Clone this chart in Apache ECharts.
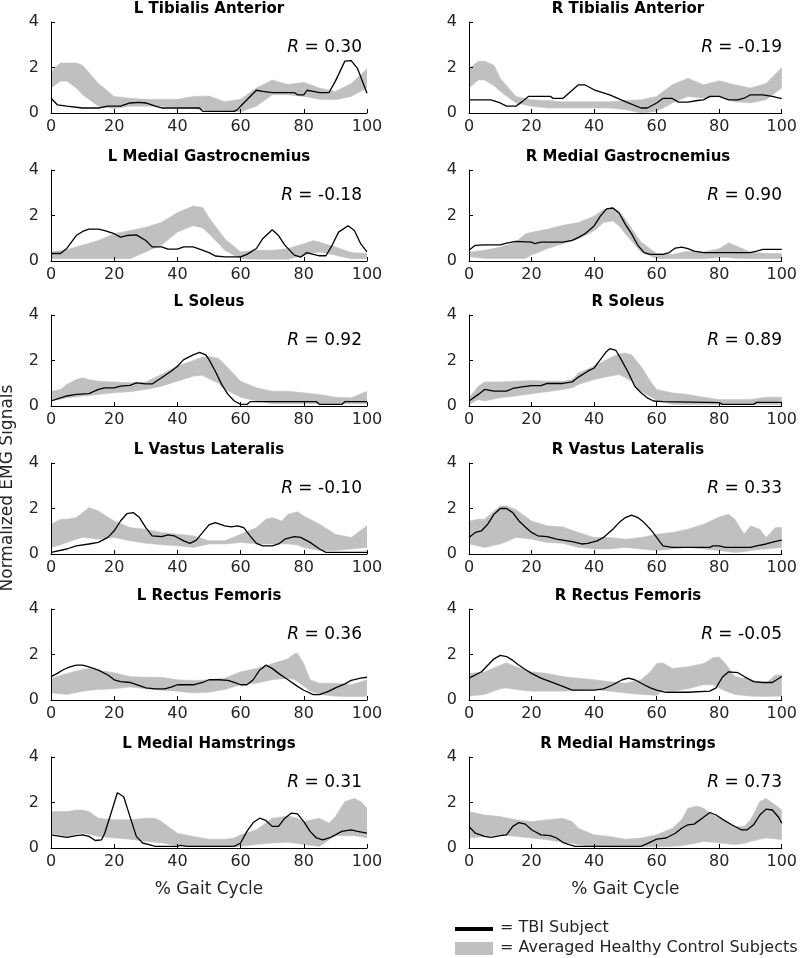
<!DOCTYPE html>
<html><head><meta charset="utf-8">
<script src="https://cdn.jsdelivr.net/npm/echarts@6/dist/echarts.min.js"></script>
<style>html,body{margin:0;padding:0;background:#fff}#c{width:800px;height:958px}</style>
</head><body><div id="c"></div>
<script>
// ---------- data ----------
const titles = ['L Tibialis Anterior','R Tibialis Anterior','L Medial Gastrocnemius','R Medial Gastrocnemius',
  'L Soleus','R Soleus','L Vastus Lateralis','R Vastus Lateralis','L Rectus Femoris','R Rectus Femoris',
  'L Medial Hamstrings','R Medial Hamstrings'];
const rValues = ['0.30','-0.19','-0.18','0.90','0.92','0.89','-0.10','0.33','0.36','-0.05','0.31','0.73'];
const xTicks = [0,20,40,60,80,100];
const yTicks = [0,2,4];

// healthy control band: [x, lower, upper]
const bandLTA = [[0,1.1,1.82],[3,1.4,2.2],[5,1.4,2.2],[8,1.1,2.2],[10,0.8,2.1],[15,0.3,1.3],[20,0.2,0.73],[25,0.3,0.65],[30,0.3,0.6],[35,0.3,0.6],[40,0.25,0.6],[45,0.2,0.73],[50,0.1,0.75],[55,0.1,0.5],[60,0.05,0.6],[65,0.3,1.1],[70,0.8,1.45],[75,0.8,1.25],[80,0.73,1.35],[85,0.6,1.1],[90,0.58,0.95],[95,0.73,1.3],[100,1.1,1.95]];
const bandRTA = [[0,1.1,1.96],[3,1.45,2.28],[5,1.45,2.28],[8,1.2,2.1],[10,0.95,1.53],[15,0.44,0.73],[20,0.3,0.58],[25,0.22,0.55],[30,0.22,0.5],[35,0.22,0.5],[40,0.22,0.5],[45,0.22,0.5],[50,0.15,0.55],[55,0.0,0.58],[60,0.07,0.73],[65,0.44,1.24],[70,0.73,1.53],[75,0.65,1.24],[80,0.73,1.42],[85,0.5,1.24],[90,0.44,1.1],[95,0.58,1.3],[100,1.1,2.0]];
const bandLMG = [[0,0.1,0.4],[5,0.1,0.5],[10,0.1,0.7],[15,0.1,0.9],[20,0.1,1.2],[25,0.1,1.34],[30,0.4,1.48],[35,0.7,1.7],[40,1.27,2.13],[45,1.55,2.42],[48,1.45,2.35],[50,1.2,1.9],[55,0.47,0.98],[60,0.1,0.4],[65,0.08,0.47],[70,0.08,0.47],[75,0.08,0.55],[80,0.25,0.76],[83,0.35,0.9],[85,0.4,0.83],[90,0.25,0.62],[95,0.1,0.37],[100,0.1,0.33]];
const bandRMG = [[0,0.19,0.4],[5,0.11,0.47],[10,0.11,0.61],[15,0.11,0.83],[18,0.11,1.19],[20,0.26,1.26],[25,0.54,1.4],[30,0.76,1.57],[35,0.97,1.69],[40,1.33,1.97],[43,1.69,2.26],[46,1.76,2.33],[48,1.54,2.19],[50,1.19,1.83],[55,0.4,0.83],[60,0.11,0.33],[65,0.1,0.29],[70,0.1,0.43],[75,0.1,0.4],[80,0.15,0.54],[83,0.15,0.8],[85,0.12,0.69],[90,0.1,0.4],[95,0.1,0.33],[100,0.1,0.33]];
const bandLSol = [[0,0.22,0.65],[3,0.3,0.73],[5,0.36,0.95],[8,0.4,1.16],[10,0.44,1.24],[12,0.46,1.16],[15,0.51,1.09],[20,0.58,1.06],[25,0.63,1.02],[30,0.73,1.06],[35,0.87,1.4],[40,1.09,1.75],[45,1.31,2.0],[48,1.35,2.15],[50,1.2,2.18],[53,1.0,2.1],[55,0.73,1.82],[60,0.39,1.09],[65,0.22,0.8],[70,0.1,0.65],[75,0.1,0.65],[80,0.1,0.58],[85,0.1,0.51],[90,0.1,0.39],[95,0.1,0.36],[100,0.1,0.65]];
const bandRSol = [[0,0.07,0.36],[3,0.29,0.87],[5,0.22,1.06],[10,0.36,1.06],[15,0.44,1.09],[20,0.54,1.12],[25,0.63,1.09],[30,0.73,1.09],[33,0.8,1.16],[35,0.95,1.45],[40,1.16,1.75],[45,1.31,2.11],[48,1.38,2.3],[50,1.24,2.33],[52,1.1,2.25],[55,0.65,1.75],[58,0.4,1.09],[60,0.25,0.73],[65,0.07,0.58],[70,0.07,0.51],[75,0.07,0.39],[80,0.07,0.29],[90,0.07,0.29],[95,0.07,0.39],[100,0.07,0.39]];
const bandLVL = [[0,0.29,1.31],[3,0.4,1.53],[5,0.51,1.53],[8,0.65,1.6],[10,0.73,1.82],[12,0.7,2.04],[15,0.65,1.89],[20,0.73,1.45],[25,0.58,1.16],[30,0.47,1.09],[35,0.41,0.95],[40,0.36,0.87],[45,0.29,0.8],[50,0.44,0.58],[55,0.44,0.58],[60,0.51,0.87],[65,0.44,1.16],[68,0.44,1.53],[70,0.44,1.6],[73,0.44,1.45],[75,0.44,1.75],[78,0.4,1.86],[80,0.29,1.67],[85,0.15,1.31],[90,0.15,0.87],[95,0.22,0.73],[100,0.29,1.24]];
const bandRVL = [[0,0.44,1.45],[3,0.35,1.53],[5,0.29,1.53],[8,0.38,1.89],[10,0.44,2.11],[12,0.55,2.11],[15,0.73,1.96],[20,0.65,1.45],[25,0.51,1.24],[30,0.47,1.19],[35,0.29,0.95],[40,0.22,0.73],[45,0.22,0.73],[50,0.29,0.65],[55,0.22,0.73],[60,0.15,0.87],[65,0.22,0.95],[70,0.29,1.09],[75,0.22,1.31],[80,0.15,1.63],[83,0.1,1.75],[85,0.07,1.53],[88,0.1,0.87],[90,0.15,1.24],[93,0.2,1.09],[95,0.22,0.73],[98,0.26,1.16],[100,0.29,1.16]];
const bandLRF = [[0,0.31,0.96],[5,0.24,1.17],[10,0.39,1.34],[12,0.42,1.39],[15,0.46,1.31],[20,0.49,1.2],[25,0.57,1.03],[30,0.49,1.0],[35,0.43,1.0],[40,0.39,0.89],[45,0.31,0.86],[50,0.34,0.89],[55,0.46,0.96],[60,0.67,1.24],[65,0.74,1.39],[70,0.89,1.6],[75,0.96,1.81],[77,0.9,2.03],[78,0.8,2.06],[80,0.6,1.6],[82,0.4,0.89],[85,0.24,0.74],[90,0.17,0.74],[95,0.14,0.67],[100,0.17,0.89]];
const bandRRF = [[0,0.17,1.17],[5,0.24,1.24],[10,0.49,1.53],[12,0.53,1.64],[15,0.46,1.46],[20,0.39,1.24],[25,0.39,1.17],[30,0.39,1.03],[35,0.43,0.96],[40,0.46,0.89],[45,0.39,0.81],[50,0.31,0.74],[55,0.24,0.89],[58,0.22,1.24],[60,0.2,1.6],[62,0.43,1.63],[65,0.39,1.39],[70,0.49,1.46],[75,0.67,1.6],[78,0.67,1.86],[80,0.53,1.89],[82,0.4,1.6],[85,0.24,1.03],[90,0.17,0.89],[95,0.15,0.74],[98,0.16,1.1],[100,0.17,1.1]];
const bandLMH = [[0,0.65,1.6],[5,0.51,1.6],[8,0.6,1.67],[10,0.65,1.67],[12,0.6,1.6],[15,0.51,1.31],[20,0.44,1.24],[25,0.39,1.24],[30,0.29,1.31],[33,0.25,1.31],[35,0.22,1.16],[40,0.1,0.65],[45,0.07,0.51],[50,0.07,0.39],[55,0.07,0.39],[58,0.07,0.44],[60,0.07,0.58],[65,0.15,0.8],[70,0.22,1.31],[75,0.25,1.41],[78,0.2,1.31],[80,0.15,1.16],[85,0.07,1.31],[88,0.36,1.09],[90,0.54,1.38],[93,0.54,2.04],[96,0.54,2.18],[98,0.5,2.04],[100,0.44,1.75]];
const bandRMH = [[0,0.44,1.6],[5,0.51,1.45],[10,0.58,1.38],[15,0.51,1.24],[20,0.44,1.16],[25,0.36,1.24],[30,0.25,1.31],[33,0.2,1.16],[35,0.15,0.87],[40,0.07,0.58],[45,0.05,0.51],[50,0.05,0.39],[55,0.05,0.44],[60,0.05,0.58],[65,0.07,0.87],[68,0.1,1.24],[70,0.15,1.75],[73,0.22,1.85],[75,0.29,1.75],[78,0.25,1.45],[80,0.22,1.31],[85,0.15,0.95],[88,0.2,0.95],[90,0.29,1.24],[93,0.38,2.04],[95,0.44,2.18],[98,0.4,1.89],[100,0.36,1.67]];

// TBI subject: [x, y]
const lineLTA = [[0,0.65],[2,0.36],[5,0.3],[10,0.22],[15,0.22],[18,0.3],[22,0.3],[25,0.44],[28,0.47],[30,0.44],[33,0.3],[35,0.22],[47,0.22],[48,0.07],[58,0.07],[59,0.15],[60,0.3],[62,0.58],[65,1.0],[67,0.95],[70,0.9],[77,0.9],[78,0.8],[80,0.8],[81,1.0],[83,0.95],[85,0.9],[88,0.9],[90,1.4],[93,2.28],[95,2.3],[97,1.96],[100,0.87]];
const lineRTA = [[0,0.58],[7,0.58],[10,0.44],[12,0.3],[15,0.3],[17,0.5],[19,0.73],[26,0.73],[27,0.64],[30,0.64],[33,1.0],[35,1.24],[37,1.24],[40,1.02],[45,0.8],[50,0.5],[55,0.22],[57,0.22],[60,0.44],[62,0.64],[65,0.64],[67,0.48],[70,0.48],[73,0.55],[75,0.58],[77,0.73],[80,0.73],[83,0.58],[86,0.58],[88,0.65],[90,0.8],[94,0.8],[97,0.73],[100,0.63]];
const lineLMG = [[0,0.33],[3,0.33],[5,0.55],[8,1.12],[10,1.3],[12,1.4],[15,1.4],[17,1.34],[20,1.2],[22,1.05],[24,1.12],[27,1.15],[30,0.9],[32,0.62],[35,0.62],[37,0.52],[40,0.52],[42,0.62],[45,0.62],[47,0.52],[50,0.37],[52,0.22],[55,0.18],[60,0.18],[62,0.29],[65,0.55],[67,0.98],[70,1.37],[72,1.12],[74,0.7],[77,0.26],[79,0.17],[81,0.37],[83,0.29],[85,0.23],[87,0.23],[89,0.7],[91,1.27],[94,1.55],[96,1.34],[98,0.76],[100,0.4]];
const lineRMG = [[0,0.47],[2,0.69],[5,0.71],[10,0.71],[12,0.79],[15,0.86],[20,0.83],[21,0.76],[23,0.83],[30,0.83],[33,0.91],[35,1.04],[37,1.19],[40,1.54],[42,1.97],[44,2.29],[46,2.33],[48,2.11],[50,1.61],[52,1.19],[54,0.69],[56,0.37],[58,0.29],[62,0.29],[64,0.37],[66,0.57],[68,0.61],[70,0.54],[72,0.43],[75,0.37],[90,0.37],[92,0.43],[94,0.51],[100,0.51]];
const lineLSol = [[0,0.22],[3,0.36],[5,0.44],[8,0.51],[12,0.54],[15,0.73],[17,0.8],[20,0.8],[22,0.87],[25,0.91],[27,1.02],[30,0.97],[32,0.97],[35,1.24],[38,1.53],[40,1.75],[42,2.04],[45,2.25],[47,2.36],[49,2.25],[50,2.04],[52,1.53],[54,0.95],[56,0.51],[58,0.22],[60,0.07],[62,0.07],[63,0.19],[84,0.19],[85,0.07],[92,0.07],[93,0.19],[100,0.19]];
const lineRSol = [[0,0.22],[3,0.51],[5,0.73],[8,0.65],[12,0.65],[14,0.77],[17,0.84],[20,0.9],[23,0.9],[25,0.99],[30,0.99],[33,1.06],[35,1.27],[38,1.53],[40,1.67],[42,2.04],[44,2.4],[45,2.52],[47,2.44],[49,1.96],[51,1.45],[53,0.87],[55,0.58],[57,0.36],[59,0.22],[62,0.19],[80,0.15],[81,0.07],[91,0.07],[92,0.16],[100,0.16]];
const lineLVL = [[0,0.07],[5,0.22],[8,0.36],[12,0.44],[15,0.51],[18,0.73],[20,1.02],[22,1.45],[24,1.77],[26,1.82],[28,1.6],[30,1.16],[32,0.8],[35,0.76],[37,0.84],[39,0.8],[42,0.58],[44,0.47],[46,0.61],[48,0.95],[50,1.28],[52,1.38],[55,1.24],[57,1.19],[59,1.24],[61,1.16],[63,0.8],[65,0.47],[67,0.36],[70,0.36],[72,0.44],[74,0.65],[77,0.76],[79,0.73],[82,0.51],[85,0.22],[87,0.07],[100,0.07]];
const lineRVL = [[0,0.73],[2,0.95],[4,1.02],[6,1.31],[8,1.75],[10,2.0],[12,2.0],[14,1.82],[16,1.45],[18,1.19],[20,0.95],[22,0.8],[25,0.76],[28,0.65],[30,0.61],[33,0.54],[36,0.44],[38,0.47],[41,0.58],[43,0.73],[46,1.09],[48,1.38],[50,1.6],[52,1.71],[54,1.6],[56,1.38],[58,1.09],[60,0.73],[62,0.36],[65,0.29],[77,0.29],[78,0.36],[80,0.36],[82,0.29],[90,0.29],[92,0.36],[95,0.44],[98,0.55],[100,0.61]];
const lineLRF = [[0,1.03],[2,1.17],[4,1.34],[6,1.46],[8,1.53],[10,1.53],[12,1.46],[15,1.31],[18,1.1],[20,0.89],[22,0.81],[25,0.77],[28,0.63],[30,0.53],[33,0.49],[36,0.49],[38,0.57],[40,0.67],[45,0.67],[48,0.77],[50,0.89],[53,0.89],[56,0.86],[58,0.77],[60,0.67],[62,0.67],[64,0.89],[66,1.31],[68,1.53],[70,1.39],[72,1.17],[75,0.89],[78,0.6],[80,0.43],[83,0.24],[85,0.24],[88,0.39],[90,0.53],[93,0.71],[95,0.86],[98,0.96],[100,1.0]];
const lineRRF = [[0,0.96],[2,1.1],[4,1.24],[6,1.53],[8,1.81],[10,1.96],[12,1.91],[14,1.74],[16,1.53],[18,1.34],[20,1.17],[23,0.96],[26,0.81],[30,0.6],[33,0.43],[36,0.43],[40,0.43],[43,0.49],[46,0.67],[49,0.89],[51,0.96],[53,0.89],[56,0.67],[58,0.53],[60,0.43],[63,0.34],[70,0.34],[77,0.39],[79,0.53],[81,1.0],[83,1.24],[86,1.2],[88,1.03],[91,0.81],[94,0.77],[97,0.77],[100,1.03]];
const lineLMH = [[0,0.58],[3,0.51],[5,0.47],[8,0.54],[10,0.58],[12,0.51],[14,0.33],[16,0.36],[17,0.65],[19,1.53],[21,2.43],[23,2.25],[25,1.38],[27,0.51],[29,0.22],[31,0.15],[33,0.07],[40,0.07],[41,0.12],[43,0.07],[58,0.07],[60,0.22],[62,0.73],[64,1.12],[66,1.31],[68,1.21],[70,0.95],[72,0.95],[74,1.31],[76,1.53],[78,1.5],[80,1.16],[82,0.73],[84,0.44],[86,0.36],[88,0.44],[90,0.58],[92,0.73],[95,0.8],[97,0.73],[100,0.65]];
const lineRMH = [[0,0.95],[2,0.65],[5,0.51],[7,0.47],[10,0.54],[12,0.58],[14,0.95],[16,1.12],[18,1.05],[20,0.8],[23,0.58],[26,0.54],[28,0.44],[30,0.25],[32,0.15],[34,0.07],[55,0.07],[57,0.19],[60,0.39],[63,0.44],[66,0.65],[68,0.87],[70,1.02],[72,1.05],[75,1.35],[77,1.56],[79,1.45],[81,1.27],[84,1.02],[87,0.8],[89,0.8],[91,1.02],[93,1.45],[95,1.71],[97,1.67],[99,1.35],[100,1.09]];

const bands = [bandLTA,bandRTA,bandLMG,bandRMG,bandLSol,bandRSol,bandLVL,bandRVL,bandLRF,bandRRF,bandLMH,bandRMH];
const lines = [lineLTA,lineRTA,lineLMG,lineRMG,lineLSol,lineRSol,lineLVL,lineRVL,lineLRF,lineRRF,lineLMH,lineRMH];

// ---------- layout ----------
const colLeft = [51, 469], colWidth = [316, 318];
const rowTop = [22, 170, 315, 463, 609, 757], rowH = 91;
const FONT = '"DejaVu Sans", "Liberation Sans", Arial, sans-serif';
const GRAY = '#c0c0c0';

function bandRenderer(band) {
  return function (params, api) {
    if (params.dataIndex !== 0) return null;
    const upper = band.map(p => api.coord([p[0], p[2]]));
    const lower = band.map(p => api.coord([p[0], p[1]])).reverse();
    return {type: 'polygon', shape: {points: upper.concat(lower)}, style: {fill: GRAY, stroke: GRAY, lineWidth: 0.5}};
  };
}

const grid = [], xAxis = [], yAxis = [], series = [], graphic = [];
for (let i = 0; i < 12; i++) {
  const col = i % 2, row = Math.floor(i / 2);
  const left = colLeft[col], width = colWidth[col], top = rowTop[row];
  grid.push({left: left, top: top, width: width, height: rowH, containLabel: false});
  const isBottom = row === 5;
  xAxis.push({
    type: 'value', gridIndex: i, min: xTicks[0], max: xTicks[xTicks.length - 1], interval: 20,
    axisLine: {show: true, onZero: false, lineStyle: {color: '#000', width: 1}},
    axisTick: {show: true, inside: true, length: 4, lineStyle: {color: '#000'}},
    axisLabel: {show: true, color: '#262626', fontSize: 16, fontFamily: FONT, margin: 6},
    splitLine: {show: false},
    name: isBottom ? '% Gait Cycle' : '', nameLocation: 'middle', nameGap: 33,
    nameTextStyle: {color: '#262626', fontSize: 17, fontFamily: FONT},
    z: 10
  });
  yAxis.push({
    type: 'value', gridIndex: i, min: yTicks[0], max: yTicks[yTicks.length - 1], interval: 2,
    axisLine: {show: true, onZero: false, lineStyle: {color: '#000', width: 1}},
    axisTick: {show: true, inside: true, length: 4, lineStyle: {color: '#000'}},
    axisLabel: {show: true, color: '#262626', fontSize: 16, fontFamily: FONT, margin: 12},
    splitLine: {show: false},
    z: 10
  });
  series.push({
    type: 'custom', name: 'Averaged Healthy Control Subjects', xAxisIndex: i, yAxisIndex: i,
    silent: true, z: 2, clip: true,
    dimensions: ['x', 'lower', 'upper'], encode: {x: 0, y: [1, 2]},
    renderItem: bandRenderer(bands[i]),
    data: bands[i]
  });
  series.push({
    type: 'line', name: 'TBI Subject', xAxisIndex: i, yAxisIndex: i,
    symbol: 'none', silent: true, z: 5,
    lineStyle: {color: '#000', width: 1.3},
    data: lines[i]
  });
  // panel title
  graphic.push({type: 'text', x: left + width / 2, y: top - 13, silent: true, z: 100,
    style: {text: titles[i], fill: '#000', font: 'bold 15px ' + FONT, align: 'center', verticalAlign: 'middle', textAlign: 'center', textVerticalAlign: 'middle'}});
  // correlation label
  graphic.push({type: 'text', x: left + width - 5, y: top + 26, silent: true, z: 100,
    style: {text: '{i|R} = ' + rValues[i], fill: '#000', fontSize: 17, fontFamily: FONT,
      align: 'right', verticalAlign: 'middle', textAlign: 'right', textVerticalAlign: 'middle',
      rich: {i: {fontStyle: 'italic', fontSize: 17, fontFamily: FONT, fill: '#000'}}}});
}

// y label
graphic.push({type: 'text', x: 8, y: 488, rotation: Math.PI / 2, silent: true, z: 100,
  style: {text: 'Normalized EMG Signals', fill: '#262626', font: '17px ' + FONT, align: 'center', verticalAlign: 'middle', textAlign: 'center', textVerticalAlign: 'middle'}});
// legend
graphic.push({type: 'line', silent: true, z: 100, shape: {x1: 455, y1: 929, x2: 493, y2: 929}, style: {stroke: '#000', lineWidth: 4}});
graphic.push({type: 'text', x: 500, y: 928, silent: true, z: 100,
  style: {text: '= TBI Subject', fill: '#262626', font: '16px ' + FONT, align: 'left', verticalAlign: 'middle', textAlign: 'left', textVerticalAlign: 'middle'}});
graphic.push({type: 'rect', silent: true, z: 100, shape: {x: 455, y: 942, width: 38, height: 13}, style: {fill: GRAY}});
graphic.push({type: 'text', x: 500, y: 948, silent: true, z: 100,
  style: {text: '= Averaged Healthy Control Subjects', fill: '#262626', font: '16px ' + FONT, align: 'left', verticalAlign: 'middle', textAlign: 'left', textVerticalAlign: 'middle'}});

const chart = echarts.init(document.getElementById('c'), null, {renderer: 'canvas'});
chart.setOption({
  animation: false,
  backgroundColor: '#fff',
  grid: grid, xAxis: xAxis, yAxis: yAxis, series: series, graphic: graphic
});
</script></body></html>
